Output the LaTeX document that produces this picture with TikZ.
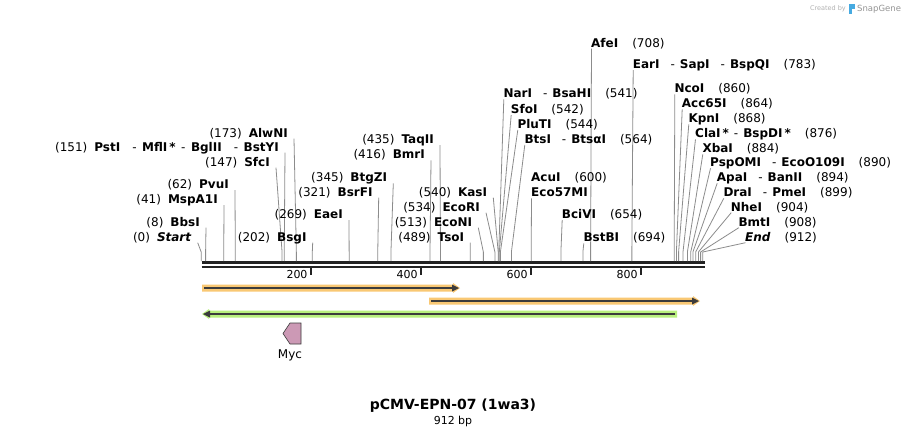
\documentclass[tikz,border=0pt]{standalone}
\usepackage{fontspec}
\setmainfont{DejaVu Sans}[ItalicFont=DejaVu Sans Oblique,BoldFont=DejaVu Sans Bold,BoldItalicFont=DejaVu Sans Bold Oblique]
\usetikzlibrary{calc}
\definecolor{leadc}{RGB}{140,140,140}
\definecolor{seqc}{RGB}{34,34,34}
\definecolor{orangef}{RGB}{249,200,116}
\definecolor{greenf}{RGB}{185,240,126}
\definecolor{featline}{RGB}{60,60,60}
\definecolor{mycf}{RGB}{204,153,181}
\definecolor{logoc}{RGB}{70,170,225}
\newcommand\sepx{\hspace{11pt}-\hspace{5pt}}
\newcommand\sepL{\hspace{12pt}-\hspace{5.5pt}}
\newcommand\posL[1]{(#1)\hspace{7pt}}
\newcommand\posR[1]{\hspace{14pt}(#1)}
\newcommand\enzL[5]{%
  \node[lab,anchor=east] (#1) at (#2,#3) {#5};
  \coordinate (#1k) at ({201.2+0.55*#4},252);
  \coordinate (#1c) at ({201.2+0.55*#4},261);
  \draw[leader] ($(#1.east)+(6,6)$) -- (#1k) -- (#1c);}
\newcommand\enzR[5]{%
  \node[lab,anchor=west] (#1) at (#2,#3) {#5};
  \coordinate (#1k) at ({201.2+0.55*#4},252);
  \coordinate (#1c) at ({201.2+0.55*#4},261);
  \draw[leader] ($(#1.west)+(0.5,6)$) -- (#1k) -- (#1c);}
\newcommand\fwdfeat[4]{%
  \fill[#4] (#1,{#3-3.5}) -- ({#2-7},{#3-3.5}) -- ({#2-7},{#3-5}) -- (#2,#3) -- ({#2-7},{#3+5}) -- ({#2-7},{#3+3.5}) -- (#1,{#3+3.5}) -- cycle;
  \draw[featline,line width=1.6pt] ({#1+2},#3) -- ({#2-6},#3);
  \fill[featline] ({#2-8},{#3-3.5}) -- ({#2-1},#3) -- ({#2-8},{#3+3.5}) -- cycle;}
\newcommand\revfeat[4]{%
  \fill[#4] (#2,{#3-3.5}) -- ({#1+7},{#3-3.5}) -- ({#1+7},{#3-5}) -- (#1,#3) -- ({#1+7},{#3+5}) -- ({#1+7},{#3+3.5}) -- (#2,{#3+3.5}) -- cycle;
  \draw[featline,line width=1.6pt] ({#2-2},#3) -- ({#1+6},#3);
  \fill[featline] ({#1+8},{#3-3.5}) -- ({#1+1},#3) -- ({#1+8},{#3+3.5}) -- cycle;}
\begin{document}
\begin{tikzpicture}[x=1pt,y=-1pt,
  lab/.style={inner sep=0pt,text height=8.8pt,text depth=0pt,font=\fontsize{12}{14}\selectfont},
  leader/.style={leadc,line width=0.8pt},
  ticklab/.style={inner sep=0pt,font=\fontsize{11}{13}\selectfont,anchor=east}]
\useasboundingbox (0,0) rectangle (906,437);
\fill[white] (0,0) rectangle (906,437);

% sequence backbone
\draw[seqc,line width=3pt] (201.5,262.5) -- (704.5,262.5);
\draw[seqc,line width=2pt] (201.5,266.5) -- (704.5,266.5);
\foreach \b in {200,400,600,800}{
  \draw[seqc,line width=1.6pt] ({200.7+0.55*\b},267) -- ({200.7+0.55*\b},275);
  \node[ticklab] (t\b) at ({197.7+0.55*\b},274.5) {\b};
}

% left-side enzymes
\enzL{s0}{191.7}{236.7}{0}{\posL{0}\textbf{\textit{Start}}}
\enzL{s8}{200}{221.7}{8}{\posL{8}\textbf{BbsI}}
\enzL{s41}{218}{199}{41}{\posL{41}\textbf{MspA1I}}
\enzL{s62}{229}{184}{62}{\posL{62}\textbf{PvuI}}
\enzL{s147}{270}{161.7}{147}{\posL{147}\textbf{SfcI}}
\enzL{s151}{279}{146.7}{151}{\posL{151}\textbf{PstI}\sepL\textbf{MflI\,*}\hspace{5.5pt}-\hspace{5.5pt}\textbf{BglII}\sepL\textbf{BstYI}}
\enzL{s173}{288}{132.7}{173}{\posL{173}\textbf{AlwNI}}
\enzL{s202}{306.7}{236.7}{202}{\posL{202}\textbf{BsgI}}
\enzL{s269}{343}{214}{269}{\posL{269}\textbf{EaeI}}
\enzL{s321}{372.7}{191.7}{321}{\posL{321}\textbf{BsrFI}}
\enzL{s345}{387.3}{177.3}{345}{\posL{345}\textbf{BtgZI}}
\enzL{s416}{425}{154.3}{416}{\posL{416}\textbf{BmrI}}
\enzL{s435}{434}{139}{435}{\posL{435}\textbf{TaqII}}
\enzL{s489}{464.3}{236.7}{489}{\posL{489}\textbf{TsoI}}
\enzL{s513}{472.3}{221.7}{513}{\posL{513}\textbf{EcoNI}}
\enzL{s534}{480}{206.7}{534}{\posL{534}\textbf{EcoRI}}
\enzL{s540}{487.3}{191.7}{540}{\posL{540}\textbf{KasI}}

% right-side enzymes
\enzR{r708}{591}{42.7}{708}{\textbf{AfeI}\posR{708}}
\enzR{r783}{632.7}{64}{783}{\textbf{EarI}\sepx\textbf{SapI}\sepx\textbf{BspQI}\posR{783}}
\enzR{r541}{503.3}{93.3}{541}{\textbf{NarI}\sepx\textbf{BsaHI}\posR{541}}
\enzR{r542}{510.7}{109}{542}{\textbf{SfoI}\posR{542}}
\enzR{r544}{517.3}{124}{544}{\textbf{PluTI}\posR{544}}
\enzR{r564}{524.3}{139}{564}{\textbf{BtsI}\sepx\textbf{BtsαI}\posR{564}}
\node[lab,anchor=west] (r600a) at (531,176.7) {\textbf{AcuI}\posR{600}};
\enzR{r600}{531}{192.3}{600}{\textbf{Eco57MI}}
\enzR{r654}{561.7}{214}{654}{\textbf{BciVI}\posR{654}}
\enzR{r694}{583.3}{237.3}{694}{\textbf{BstBI}\posR{694}}
\enzR{r860}{674.3}{88.3}{860}{\textbf{NcoI}\posR{860}}
\enzR{r864}{681.7}{103.3}{864}{\textbf{Acc65I}\posR{864}}
\enzR{r868}{688.3}{118.3}{868}{\textbf{KpnI}\posR{868}}
\enzR{r876}{695}{133.3}{876}{\textbf{ClaI\,*}\hspace{5pt}-\hspace{5pt}\textbf{BspDI\,*}\posR{876}}
\enzR{r884}{702.3}{148.3}{884}{\textbf{XbaI}\posR{884}}
\enzR{r890}{710}{162.3}{890}{\textbf{PspOMI}\sepx\textbf{EcoO109I}\posR{890}}
\enzR{r894}{716.7}{177.3}{894}{\textbf{ApaI}\sepx\textbf{BanII}\posR{894}}
\enzR{r899}{723.3}{192.3}{899}{\textbf{DraI}\sepx\textbf{PmeI}\posR{899}}
\enzR{r904}{730.7}{206.7}{904}{\textbf{NheI}\posR{904}}
\enzR{r908}{738.3}{221.7}{908}{\textbf{BmtI}\posR{908}}
\enzR{r912}{745}{236.7}{912}{\textbf{\textit{End}}\posR{912}}

% features
\fwdfeat{202}{460}{288}{orangef}
\fwdfeat{429}{700}{301}{orangef}
\revfeat{202}{677}{314}{greenf}
\filldraw[fill=mycf,draw=featline,line width=0.6pt] (283,333.5) -- (290,323) -- (301,323) -- (301,344) -- (290,344) -- cycle;
\node[inner sep=0pt,font=\fontsize{12}{14}\selectfont] (myc) at (290,355) {Myc};

% title
\node[inner sep=0pt,font=\fontsize{14}{16}\selectfont\bfseries] (title) at (453,406) {pCMV-EPN-07 (1wa3)};
\node[inner sep=0pt,font=\fontsize{11}{13}\selectfont] (size) at (453,421.5) {912 bp};

% credit
\node[inner sep=0pt,anchor=east,font=\fontsize{6.5}{8}\selectfont,text=black!30] (cred) at (846,9) {Created by};
\fill[logoc] (849,4) rectangle (852,14);
\fill[logoc] (852,4) rectangle (855,9);
\node[inner sep=0pt,anchor=west,font=\fontsize{8.5}{10}\selectfont,text=black!42] (sg) at (857,9) {SnapGene};
\end{tikzpicture}
\end{document}
